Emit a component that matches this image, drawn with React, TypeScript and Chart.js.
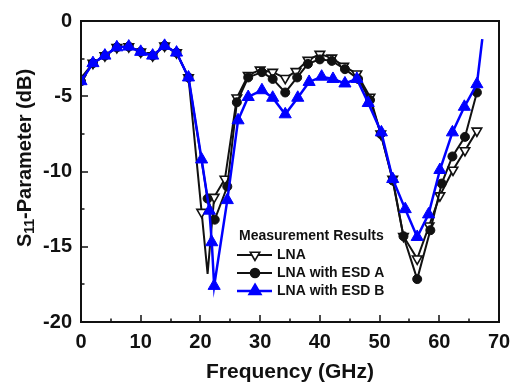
import React, { useEffect, useRef } from "react";
import { Chart, registerables } from "chart.js";

Chart.register(...registerables);

// ---- data ----
const lnaFreq = [0, 2, 4, 6, 8, 10, 12, 14, 16, 18, 20.2, 21.2, 22.3, 24.1, 26.1, 28, 30, 32.1, 34.2, 36, 38, 40, 42, 44, 46.2, 48.4, 50.2, 52.2, 54, 56.3, 58.3, 60.1, 62.3, 64.3, 66.3];
const lnaS11 = [-3.8, -2.8, -2.3, -1.75, -1.7, -2.05, -2.3, -1.65, -2.1, -3.75, -12.7, -16.8, -11.7, -10.5, -5.1, -3.6, -3.25, -3.4, -3.8, -3.35, -2.6, -2.2, -2.45, -3.0, -3.5, -5.05, -7.5, -10.5, -14.3, -15.8, -13.6, -11.6, -9.9, -8.6, -7.3];
const lnaNoMarker = [11];

const esdAFreq = [0, 2, 4, 6, 8, 10, 12, 14, 16, 18, 21.2, 22.4, 24.5, 26.1, 28, 30.3, 32.1, 34.2, 36.2, 38, 40, 42, 44.2, 46.4, 48.4, 50.2, 52.2, 54, 56.3, 58.5, 60.4, 62.2, 64.3, 66.3];
const esdAS11 = [-4.0, -2.8, -2.3, -1.75, -1.7, -2.05, -2.3, -1.65, -2.1, -3.75, -11.8, -13.2, -11.0, -5.4, -3.75, -3.4, -3.85, -4.75, -3.75, -2.85, -2.55, -2.65, -3.2, -3.85, -5.25, -7.5, -10.6, -14.3, -17.15, -13.9, -10.8, -9.0, -7.7, -4.75];
const esdANoMarker: number[] = [];

const esdBFreq = [0, 2, 4, 6, 8, 10, 12, 14, 16, 18, 20.2, 21.5, 21.9, 22.3, 24.5, 26.3, 28, 30.3, 32.1, 34.2, 36.3, 38.2, 40.3, 42.2, 44.2, 46.2, 48.1, 50.3, 52.2, 54.3, 56.3, 58.2, 60.1, 62.2, 64.2, 66.3, 67.2];
const esdBS11 = [-4.0, -2.8, -2.3, -1.75, -1.7, -2.05, -2.3, -1.65, -2.1, -3.75, -9.2, -12.6, -14.7, -17.6, -11.9, -6.6, -5.05, -4.6, -5.1, -6.2, -5.1, -4.05, -3.7, -3.85, -4.15, -3.85, -5.45, -7.4, -10.5, -12.5, -14.35, -12.85, -9.9, -7.4, -5.7, -4.2, -1.2];
const esdBNoMarker = [36];

const seriesNames = ["LNA", "LNA with ESD A", "LNA with ESD B"];
const legendTitle = "Measurement Results";
const xTitle = "Frequency (GHz)";
const yTitleMain = "S";
const yTitleSub = "11";
const yTitleRest = "-Parameter (dB)";

const xMin = 0, xMax = 70, xStep = 10, xMinorStep = 5;
const yMin = -20, yMax = 0, yStep = 5, yMinorStep = 2.5;

const FONT = '"Liberation Sans", Arial, Helvetica, sans-serif';
const BLUE = "#0000ff";
const INK = "#111111";

const pts = (xs: number[], ys: number[]) => xs.map((x, i) => ({ x, y: ys[i] }));

function drawMarker(ctx: CanvasRenderingContext2D, kind: string, x: number, y: number, r: number, fill: string, stroke: string) {
  ctx.save();
  ctx.beginPath();
  if (kind === "circle") {
    ctx.arc(x, y, r, 0, Math.PI * 2);
  } else {
    const rot = kind === "down" ? Math.PI : 0;
    for (let k = 0; k < 3; k++) {
      const a = rot + (k * 2 * Math.PI) / 3;
      const px = x + Math.sin(a) * r;
      const py = y - Math.cos(a) * r;
      if (k === 0) ctx.moveTo(px, py);
      else ctx.lineTo(px, py);
    }
    ctx.closePath();
  }
  ctx.fillStyle = fill;
  ctx.fill();
  ctx.lineWidth = 1.6;
  ctx.strokeStyle = stroke;
  ctx.stroke();
  ctx.restore();
}

const decorPlugin = {
  id: "decor",
  afterDatasetsDraw(chart: any) {
    const ctx: CanvasRenderingContext2D = chart.ctx;
    const { left, right, top, bottom } = chart.chartArea;
    const xs = chart.scales.x;
    const ys = chart.scales.y;
    ctx.save();
    // frame
    ctx.strokeStyle = INK;
    ctx.lineWidth = 2;
    ctx.strokeRect(left, top, right - left, bottom - top);
    // inward ticks
    ctx.lineWidth = 1.5;
    ctx.beginPath();
    for (let v = xMin; v <= xMax + 1e-9; v += xMinorStep) {
      const p = Math.round(xs.getPixelForValue(v));
      const major = Math.abs(v / xStep - Math.round(v / xStep)) < 1e-6;
      const len = major ? 7 : 3.5;
      ctx.moveTo(p, bottom);
      ctx.lineTo(p, bottom - len);
    }
    for (let v = yMin; v <= yMax + 1e-9; v += yMinorStep) {
      const p = Math.round(ys.getPixelForValue(v));
      const major = Math.abs(v / yStep - Math.round(v / yStep)) < 1e-6;
      const len = major ? 7 : 3.5;
      ctx.moveTo(left, p);
      ctx.lineTo(left + len, p);
    }
    ctx.stroke();
    ctx.restore();
  },
  afterDraw(chart: any) {
    const ctx: CanvasRenderingContext2D = chart.ctx;
    const { left, right, top, bottom } = chart.chartArea;
    ctx.save();
    ctx.fillStyle = INK;
    // x title
    ctx.font = `bold 21px ${FONT}`;
    ctx.textAlign = "center";
    ctx.textBaseline = "middle";
    ctx.fillText(xTitle, (left + right) / 2, 372);
    // y title with subscript
    const mainFont = `bold 20px ${FONT}`;
    const subFont = `bold 14px ${FONT}`;
    ctx.font = mainFont;
    const wS = ctx.measureText(yTitleMain).width;
    const wRest = ctx.measureText(yTitleRest).width;
    ctx.font = subFont;
    const wSub = ctx.measureText(yTitleSub).width;
    const total = wS + wSub + wRest;
    ctx.translate(25, 158);
    ctx.rotate(-Math.PI / 2);
    ctx.textAlign = "left";
    let cx = -total / 2;
    ctx.font = mainFont;
    ctx.fillText(yTitleMain, cx, 0);
    cx += wS;
    ctx.font = subFont;
    ctx.fillText(yTitleSub, cx, 5);
    cx += wSub;
    ctx.font = mainFont;
    ctx.fillText(yTitleRest, cx, 0);
    ctx.restore();

    // legend
    ctx.save();
    const lx = left + 157;
    const ly = top + 215;
    ctx.font = `bold 14px ${FONT}`;
    ctx.fillStyle = INK;
    ctx.textAlign = "left";
    ctx.textBaseline = "middle";
    ctx.fillText(legendTitle, lx + 1, ly);
    const rows = [
      { color: INK, kind: "down", r: 5.5, fill: "#ffffff", lw: 2 },
      { color: INK, kind: "circle", r: 4.5, fill: INK, lw: 2 },
      { color: BLUE, kind: "up", r: 7, fill: BLUE, lw: 2.5 },
    ];
    rows.forEach((row, i) => {
      const y = ly + 19 + i * 18;
      ctx.strokeStyle = row.color;
      ctx.lineWidth = row.lw;
      ctx.beginPath();
      ctx.moveTo(lx - 1, y);
      ctx.lineTo(lx + 34, y);
      ctx.stroke();
      drawMarker(ctx, row.kind, lx + 17, y, row.r, row.fill, row.color);
      ctx.fillStyle = INK;
      ctx.fillText(seriesNames[i], lx + 39, y);
    });
    ctx.restore();
  },
};

const radiusFn = (skip: number[], r: number) => (c: any) => (skip.includes(c.dataIndex) ? 0 : r);

export default function App() {
  const ref = useRef<HTMLCanvasElement>(null);
  useEffect(() => {
    if (!ref.current) return;
    const tickFont = { family: FONT, size: 20, weight: "bold" as const };
    const chart = new Chart(ref.current, {
      type: "line",
      data: {
        datasets: [
          {
            label: seriesNames[2],
            data: pts(esdBFreq, esdBS11),
            borderColor: BLUE,
            backgroundColor: BLUE,
            borderWidth: 2.5,
            pointStyle: "triangle",
            pointRadius: radiusFn(esdBNoMarker, 7),
            pointBackgroundColor: BLUE,
            pointBorderColor: BLUE,
            pointBorderWidth: 1,
            tension: 0,
            order: 0,
          },
          {
            label: seriesNames[1],
            data: pts(esdAFreq, esdAS11),
            borderColor: INK,
            backgroundColor: INK,
            borderWidth: 2,
            pointStyle: "circle",
            pointRadius: radiusFn(esdANoMarker, 4.5),
            pointBackgroundColor: INK,
            pointBorderColor: INK,
            pointBorderWidth: 1,
            tension: 0,
            order: 1,
          },
          {
            label: seriesNames[0],
            data: pts(lnaFreq, lnaS11),
            borderColor: INK,
            backgroundColor: "#ffffff",
            borderWidth: 2,
            pointStyle: "triangle",
            pointRotation: 180,
            pointRadius: radiusFn(lnaNoMarker, 5.5),
            pointBackgroundColor: "#ffffff",
            pointBorderColor: INK,
            pointBorderWidth: 1.6,
            tension: 0,
            order: 2,
          },
        ],
      },
      options: {
        responsive: false,
        animation: false,
        events: [],
        layout: { padding: { top: 13, right: 21, left: 0, bottom: 0 } },
        plugins: { legend: { display: false }, tooltip: { enabled: false }, title: { display: false } },
        scales: {
          x: {
            type: "linear",
            min: xMin,
            max: xMax,
            ticks: { stepSize: xStep, font: tickFont, color: INK, padding: 8, maxRotation: 0 },
            grid: { display: false, drawTicks: false },
            border: { display: false },
            afterFit: (s: any) => {
              s.height = 61;
            },
          },
          y: {
            type: "linear",
            min: yMin,
            max: yMax,
            ticks: { stepSize: yStep, font: tickFont, color: INK, padding: 9 },
            grid: { display: false, drawTicks: false },
            border: { display: false },
            afterFit: (s: any) => {
              s.width = 81;
            },
          },
        },
      },
      plugins: [decorPlugin],
    });
    return () => chart.destroy();
  }, []);
  return (
    <div style={{ position: "fixed", left: 0, top: 0, width: 520, height: 383, background: "#ffffff" }}>
      <canvas ref={ref} width={520} height={383} style={{ width: 520, height: 383, display: "block" }} />
    </div>
  );
}
